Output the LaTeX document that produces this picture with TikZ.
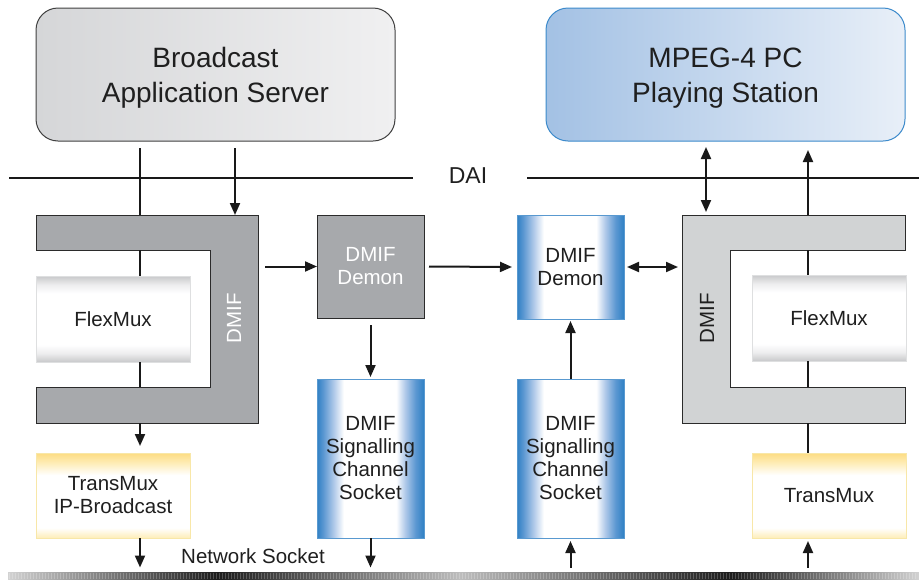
\documentclass[tikz,border=0pt]{standalone}
\usepackage{fontspec}
\setmainfont{Liberation Sans}
\usetikzlibrary{arrows.meta,calc}
\definecolor{dmgray}{HTML}{A7A9AC}
\definecolor{dmlight}{HTML}{D1D3D4}
\definecolor{dmedge}{HTML}{2B2B2B}
\definecolor{dmblue}{HTML}{2F80C4}
\definecolor{dmblueB}{HTML}{5C98D2}
\definecolor{dmblueC}{HTML}{B3CBEA}
\definecolor{flexg}{HTML}{C8C9CB}
\definecolor{flexgB}{HTML}{EDEDEE}
\definecolor{tmy}{HTML}{FDDC82}
\definecolor{tmyB}{HTML}{FEEDB8}
\definecolor{tmedge}{HTML}{F8E7A8}
\definecolor{stblue}{HTML}{A3C1E4}
\definecolor{stblueB}{HTML}{E8EFF8}
\definecolor{stedge}{HTML}{3C8ACB}
\definecolor{svgray}{HTML}{D5D6D8}
\definecolor{svgrayB}{HTML}{F0F0F1}
\definecolor{barL}{HTML}{D2D2D2}
\definecolor{barD}{HTML}{1C1C1C}
\definecolor{barM}{HTML}{BDBDBD}
\pgfdeclarehorizontalshading{bluebar}{100bp}{color(0bp)=(dmblue); color(25bp)=(dmblue); color(28bp)=(dmblueB); color(33bp)=(dmblueC); color(37.5bp)=(white); color(62bp)=(white); color(66bp)=(dmblueC); color(71bp)=(dmblueB); color(75bp)=(dmblue); color(100bp)=(dmblue)}
\pgfdeclareverticalshading{flexsh}{100bp}{color(0bp)=(flexg); color(25bp)=(flexg); color(30bp)=(flexgB); color(35bp)=(white); color(65bp)=(white); color(70bp)=(flexgB); color(75bp)=(flexg); color(100bp)=(flexg)}
\pgfdeclareverticalshading{tmsh}{100bp}{color(0bp)=(tmyB); color(25bp)=(tmyB); color(31bp)=(white); color(62bp)=(white); color(69bp)=(tmyB); color(75bp)=(tmy); color(100bp)=(tmy)}
\pgfdeclarehorizontalshading{barsh}{100bp}{color(0bp)=(barL); color(25bp)=(barL); color(36.5bp)=(barD); color(49.8bp)=(barM); color(64.7bp)=(barD); color(75bp)=(barL); color(100bp)=(barL)}
\begin{document}
\begin{tikzpicture}[x=1pt,y=-1pt,
  every node/.style={inner sep=0pt,outer sep=0pt,align=center},
  lbl/.style={font=\fontsize{20.5}{23}\selectfont,text=black!88},
  wlbl/.style={font=\fontsize{20.5}{23}\selectfont,text=white},
  big/.style={font=\fontsize{28}{35}\selectfont,text=black!88},
  bluebox/.style={shading=bluebar,draw=dmblue!80,line width=0.6pt,minimum width=107pt},
  flexbox/.style={shading=flexsh,minimum width=154pt,minimum height=86pt,draw=flexg!60,line width=0.4pt},
  tmbox/.style={shading=tmsh,minimum width=154pt,minimum height=85pt,draw=tmedge,line width=0.6pt},
  conn/.style={line width=2pt,draw=black!90},
  arr/.style={conn,-{Triangle[length=12pt,width=10pt]}},
  arrboth/.style={conn,{Triangle[length=12pt,width=10pt]}-{Triangle[length=12pt,width=10pt]}},
  cshape/.style={draw=dmedge,line width=1pt,line join=miter}
]
\useasboundingbox (0,0) rectangle (919,579);
% top boxes
\node[draw=black!75,line width=1pt,rounded corners=22pt,left color=svgray,right color=svgrayB,
  minimum width=359pt,minimum height=133pt,big] (server) at (215.5,74.5) {\rule{0pt}{27pt}Broadcast\\Application Server};
\node[draw=stedge,line width=1pt,rounded corners=22pt,left color=stblue,right color=stblueB,
  minimum width=359pt,minimum height=133pt,big] (station) at (725.5,74.5) {\rule{0pt}{27pt}MPEG-4 PC\\Playing Station};
% DAI
\node[font=\fontsize{23}{26}\selectfont,text=black!88] (dai) at (468,176) {DAI};
\coordinate (daiA) at (9,178); \coordinate (daiB) at (413,178);
\coordinate (daiC) at (527,178); \coordinate (daiD) at (919,178);
\draw[conn] (daiA) -- (daiB);
\draw[conn] (daiC) -- (daiD);
% left DMIF C-shape
\fill[dmgray] (36,215) -- (258,215) -- (258,423) -- (36,423) -- (36,387) -- (210,387) -- (210,250) -- (36,250) -- cycle;
\draw[cshape] (36,215) -- (258,215) -- (258,423) -- (36,423) -- (36,387) -- (210,387) -- (210,250) -- (36,250) -- cycle;
\node[minimum width=222pt,minimum height=208pt] (ldmif) at (147,319) {};
\node[wlbl,rotate=90] (ldmiflbl) at (234,318) {DMIF};
\coordinate (lcT) at (36,250); \coordinate (lcB) at (36,387);
% right DMIF C-shape
\fill[dmlight] (905,215) -- (682,215) -- (682,423) -- (905,423) -- (905,387) -- (730,387) -- (730,250) -- (905,250) -- cycle;
\draw[cshape] (905,215) -- (682,215) -- (682,423) -- (905,423) -- (905,387) -- (730,387) -- (730,250) -- (905,250) -- cycle;
\node[minimum width=223pt,minimum height=208pt] (rdmif) at (793.5,319) {};
\node[lbl,rotate=90] (rdmiflbl) at (707,318) {DMIF};
\coordinate (rcT) at (905,250); \coordinate (rcB) at (905,387);
% flexmux
\node[flexbox,lbl] (lflex) at (113,319) {FlexMux};
\node[flexbox,lbl] (rflex) at (829,318) {FlexMux};
% transmux
\node[tmbox,lbl] (ltm) at (113,495.5) {TransMux\\IP-Broadcast};
\node[tmbox,lbl] (rtm) at (829,495.5) {TransMux};
% demons
\node[fill=dmgray,draw=dmedge,line width=1pt,minimum width=107pt,minimum height=103pt,wlbl] (ldemon) at (370.5,266.5) {DMIF\\Demon};
\node[bluebox,minimum height=104pt,lbl] (rdemon) at (570.5,267) {DMIF\\Demon};
% sockets
\node[bluebox,minimum height=159pt,lbl] (lsock) at (370.5,458.5) {DMIF\\Signalling\\Channel\\Socket};
\node[bluebox,minimum height=159pt,lbl] (rsock) at (570.5,458.5) {DMIF\\Signalling\\Channel\\Socket};
% bottom bar
\node[shading=barsh,minimum width=911pt,minimum height=6.5pt] (bar) at (463.5,575.75) {};
\foreach \i in {0,...,302} {\draw[white,opacity=0.22,line width=0.9pt] ($(bar.north west)+(3*\i+1.5,0)$) -- ($(bar.south west)+(3*\i+1.5,0)$);}
\node[lbl] (netsock) at (253,556.5) {Network Socket};
% x positions of connectors
\coordinate (lx) at (140,0); \coordinate (lx2) at (235,0);
\coordinate (rx) at (808,0); \coordinate (rx2) at (706,0);
% left side connectors
\draw[conn] ($(server.south -| lx)+(0,7)$) -- (ldmif.north -| lx);
\draw[arr] ($(server.south -| lx2)+(0,7)$) -- (ldmif.north -| lx2);
\draw[conn] (lcT -| lx) -- (lflex.north -| lx);
\draw[conn] (lflex.south -| lx) -- (lcB -| lx);
\draw[arr] (ldmif.south -| lx) -- ($(ltm.north -| lx)+(0,-7)$);
\draw[arr] (ltm.south -| lx) -- ($(bar.north -| lx)+(0,-5)$);
\draw[arr] ($(ldmif.east |- ldemon)+(7,0)$) -- (ldemon.west);
\draw[arr] ($(ldemon.east)+(5,0)$) -- ($(rdemon.west)+(-5,0)$);
\draw[arr] ($(ldemon.south)+(0,7)$) -- ($(lsock.north)+(0,-2)$);
\draw[arr] (lsock.south) -- ($(bar.north -| lsock)+(0,-5)$);
% right side connectors
\draw[arr] ($(bar.north -| rsock)+(0,-5)$) -- ($(rsock.south)+(0,3)$);
\draw[arr] (rsock.north) -- ($(rdemon.south)+(0,2)$);
\draw[arrboth] ($(rdemon.east)+(3,0)$) -- ($(rdmif.west |- rdemon)+(-4,0)$);
\draw[arrboth] ($(station.south -| rx2)+(0,6)$) -- ($(rdmif.north -| rx2)+(0,-3)$);
\draw[arr] (rdmif.north -| rx) -- ($(station.south -| rx)+(0,9)$);
\draw[conn] (rcT -| rx) -- (rflex.north -| rx);
\draw[conn] (rflex.south -| rx) -- (rcB -| rx);
\draw[conn] (rdmif.south -| rx) -- (rtm.north -| rx);
\draw[arr] ($(bar.north -| rx)+(0,-5)$) -- ($(rtm.south -| rx)+(0,3)$);
\end{tikzpicture}
\end{document}
